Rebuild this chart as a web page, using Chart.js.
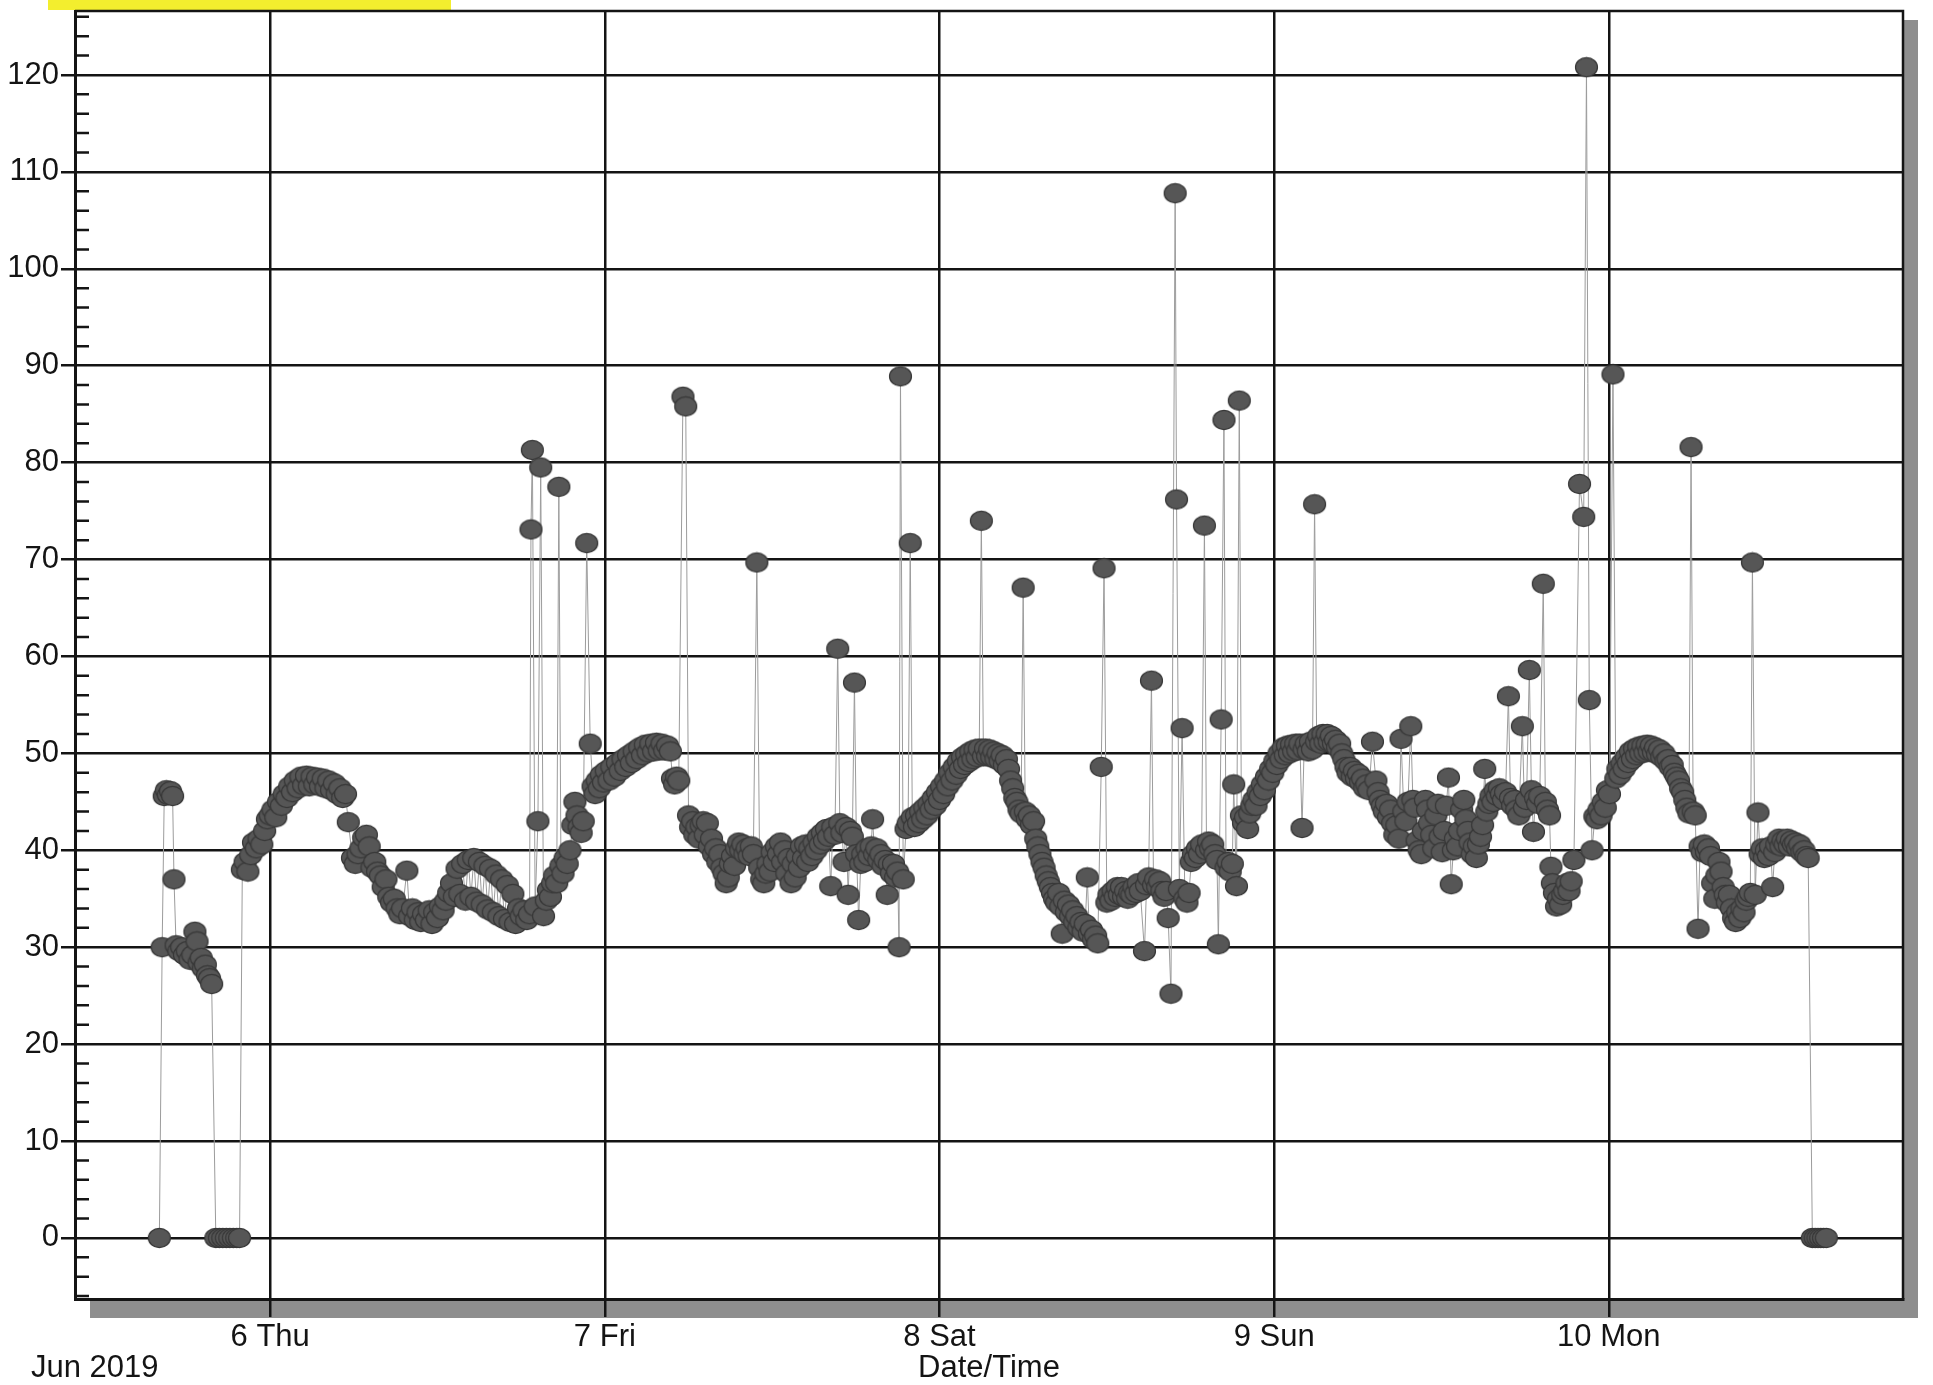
<!DOCTYPE html>
<html>
<head>
<meta charset="utf-8">
<title>Date/Time</title>
<script src="https://cdn.jsdelivr.net/npm/chart.js@4.4.1/dist/chart.umd.min.js"></script>
<style>
  html, body { margin: 0; padding: 0; background: #fff; }
  canvas { display: block; }
</style>
</head>
<body>
<canvas id="chart" width="1933" height="1385"></canvas>
<script>
// hours are counted from Jun 5 2019 00:00, rows of ten readings
const wedHours  = [16.05, 16.25, 16.4, 16.55, 16.7, 16.85, 17.0, 17.1, 17.25, 17.45,
                   17.65, 17.85, 18.05, 18.25, 18.45, 18.6, 18.75, 18.9, 19.05, 19.2,
                   19.35, 19.5, 19.65, 19.8, 20.1, 20.35, 20.6, 20.85, 21.1, 21.35,
                   21.6, 21.8, 22.0, 22.2, 22.4, 22.6, 22.8, 23.0, 23.2, 23.4,
                   23.6, 23.8];
const wedValues = [0, 30, 45.6, 46.2, 45.7, 46.1, 45.6, 37, 30.2, 29.6,
                   30, 29.2, 29.6, 28.7, 29.2, 31.6, 30.6, 28.4, 28.9, 27.8,
                   28.2, 27.1, 26.8, 26.2, 0, 0, 0, 0, 0, 0,
                   0, 0, 38, 38.8, 37.8, 39.5, 40.8, 40.2, 41.2, 40.6,
                   42, 43.2];

const thuHours  = [24.0, 24.2, 24.4, 24.6, 24.8, 25.0, 25.2, 25.4, 25.6, 25.8,
                   26.0, 26.2, 26.4, 26.6, 26.8, 27.0, 27.2, 27.4, 27.6, 27.8,
                   28.0, 28.2, 28.4, 28.6, 28.8, 29.0, 29.2, 29.4, 29.6, 29.9,
                   30.1, 30.3, 30.5, 30.7, 30.9, 31.1, 31.3, 31.5, 31.7, 31.9,
                   32.1, 32.3, 32.5, 32.7, 32.9, 33.1, 33.3, 33.5, 33.8, 34.0,
                   34.2, 34.4, 34.6, 34.8, 35.0, 35.2, 35.4, 35.6, 35.8, 36.0,
                   36.2, 36.4, 36.6, 36.8, 37.0, 37.2, 37.4, 37.6, 37.8, 38.0,
                   38.2, 38.4, 38.6, 38.8, 39.0, 39.2, 39.4, 39.6, 39.8, 40.0,
                   40.2, 40.4, 40.6, 40.8, 41.0, 41.2, 41.4, 41.6, 41.8, 42.0,
                   42.2, 42.4, 42.6, 42.7, 42.8, 43.0, 43.2, 43.4, 43.6, 43.8,
                   43.95, 44.1, 44.25, 44.4, 44.55, 44.7, 44.85, 45.0, 45.15, 45.3,
                   45.5, 45.7, 45.85, 46.0, 46.15, 46.3, 46.45, 46.7, 46.95, 47.15,
                   47.3, 47.45, 47.6, 47.75, 47.9];
const thuValues = [43.6, 44.2, 43.4, 45, 44.6, 45.8, 45.4, 46.6, 46, 47.2,
                   46.4, 47.6, 46.7, 47.7, 46.6, 47.6, 46.8, 47.5, 46.6, 47.4,
                   46.4, 47.2, 46.2, 46.9, 45.8, 46.4, 45.4, 45.8, 42.9, 39.2,
                   38.6, 39.6, 40.2, 41.3, 41.6, 40.4, 38.2, 38.8, 37.8, 37.4,
                   36.2, 37, 35.2, 34.6, 35, 34, 33.4, 34, 37.9, 33.2,
                   34, 32.8, 33.6, 32.6, 33.4, 32.8, 33.8, 32.4, 33.6, 33,
                   34.2, 33.8, 34.8, 35.6, 36.6, 35.2, 38.1, 35.5, 38.6, 34.8,
                   39, 35.2, 39.2, 34.7, 38.8, 34.4, 38.4, 33.9, 38.1, 33.6,
                   37.5, 33.2, 37, 32.9, 36.4, 32.6, 35.5, 32.4, 34, 33.2,
                   33.8, 32.8, 33.4, 73.1, 81.3, 34.2, 43, 79.5, 33.2, 34.8,
                   35.9, 35.2, 36.6, 37.4, 36.6, 77.5, 38.4, 37.6, 39.2, 38.6,
                   40, 42.6, 45, 43.6, 42.4, 41.8, 43, 71.7, 51, 46.6,
                   45.8, 47.2, 46.4, 47.8, 47];

const friHours  = [48.1, 48.3, 48.5, 48.7, 48.9, 49.1, 49.3, 49.5, 49.7, 49.9,
                   50.1, 50.3, 50.5, 50.7, 50.9, 51.1, 51.3, 51.5, 51.7, 51.9,
                   52.1, 52.3, 52.5, 52.7, 52.85, 53.0, 53.15, 53.3, 53.6, 53.8,
                   54.0, 54.15, 54.3, 54.45, 54.6, 54.75, 54.9, 55.05, 55.2, 55.35,
                   55.5, 55.65, 55.8, 55.95, 56.1, 56.25, 56.4, 56.55, 56.7, 56.85,
                   57.0, 57.15, 57.3, 57.45, 57.6, 57.75, 57.9, 58.05, 58.2, 58.35,
                   58.5, 58.65, 58.9, 59.1, 59.25, 59.4, 59.55, 59.7, 59.85, 60.0,
                   60.15, 60.3, 60.45, 60.6, 60.75, 60.9, 61.05, 61.2, 61.35, 61.5,
                   61.65, 61.8, 61.95, 62.1, 62.25, 62.4, 62.55, 62.7, 62.85, 63.0,
                   63.15, 63.3, 63.45, 63.6, 63.75, 63.9, 64.05, 64.2, 64.35, 64.5,
                   64.7, 64.85, 65.0, 65.15, 65.3, 65.45, 65.6, 65.75, 65.9, 66.05,
                   66.2, 66.35, 66.5, 66.65, 66.8, 66.95, 67.1, 67.2, 67.35, 67.5,
                   67.65, 67.8, 67.95, 68.1, 68.25, 68.4, 68.55, 68.7, 68.85, 69.0,
                   69.1, 69.2, 69.4, 69.6, 69.75, 69.9, 70.05, 70.2, 70.35, 70.5,
                   70.65, 70.8, 70.95, 71.1, 71.25, 71.4, 71.55, 71.7, 71.85];
const friValues = [48.2, 47.2, 48.6, 47.6, 49, 48.2, 49.4, 48.6, 49.8, 49,
                   50.2, 49.4, 50.6, 49.8, 50.9, 50.1, 51, 50.2, 51.1, 50.3,
                   51, 50.3, 50.8, 50.2, 47.4, 46.8, 47.6, 47.2, 86.8, 85.8,
                   43.6, 42.4, 43, 41.6, 42.4, 41.2, 42.6, 43, 41.6, 42.8,
                   40.4, 41.2, 39.6, 40.2, 38.8, 39.6, 38.2, 37.6, 36.6, 37.2,
                   38.6, 39.4, 38.4, 40.2, 40.8, 40, 40.6, 39.6, 40.2, 39.4,
                   40.4, 39.6, 69.7, 38.2, 37, 36.6, 37.6, 38.6, 37.8, 39.8,
                   38.8, 40.4, 39.6, 40.8, 38.8, 40, 37.6, 39.2, 36.6, 38.6,
                   37.2, 39.4, 38.2, 40.4, 39.2, 40.6, 38.8, 40.2, 39.4, 40.8,
                   40, 41.4, 40.6, 41.8, 41, 42.2, 41.4, 36.3, 42.4, 41.6,
                   60.8, 42.8, 41.8, 38.8, 42.4, 35.4, 42, 41.4, 57.3, 39.6,
                   32.8, 38.6, 39.6, 38.8, 40.2, 39.4, 40.4, 43.2, 39.6, 40.2,
                   39, 39.6, 38.4, 39, 35.4, 38.6, 37.6, 38.6, 37.2, 37.8,
                   30, 88.9, 37, 42.2, 42.8, 71.7, 43.4, 42.4, 43.6, 42.8,
                   44, 43.2, 44.4, 43.6, 44.8, 44.2, 45.4, 44.6, 46];

const satHours  = [72.0, 72.15, 72.3, 72.45, 72.6, 72.75, 72.9, 73.05, 73.2, 73.35,
                   73.5, 73.65, 73.8, 73.95, 74.1, 74.25, 74.4, 74.55, 74.7, 74.85,
                   75.0, 75.15, 75.3, 75.45, 75.6, 75.75, 75.9, 76.05, 76.2, 76.35,
                   76.5, 76.65, 76.8, 76.95, 77.1, 77.25, 77.4, 77.55, 77.7, 77.85,
                   78.0, 78.15, 78.3, 78.45, 78.6, 78.75, 78.9, 79.05, 79.2, 79.35,
                   79.5, 79.65, 79.8, 79.95, 80.1, 80.25, 80.4, 80.55, 80.7, 80.8,
                   80.95, 81.1, 81.25, 81.4, 81.55, 81.7, 81.85, 82.0, 82.15, 82.3,
                   82.45, 82.6, 82.75, 82.9, 83.05, 83.2, 83.35, 83.6, 83.8, 84.0,
                   84.15, 84.3, 84.45, 84.6, 84.75, 84.9, 85.05, 85.2, 85.35, 85.5,
                   85.65, 85.8, 85.95, 86.1, 86.25, 86.4, 86.7, 86.85, 87.0, 87.2,
                   87.35, 87.5, 87.65, 87.8, 87.95, 88.1, 88.25, 88.4, 88.6, 88.9,
                   89.0, 89.2, 89.4, 89.6, 89.75, 89.9, 90.05, 90.2, 90.35, 90.5,
                   90.65, 90.8, 91.0, 91.15, 91.3, 91.45, 91.6, 91.75, 91.9, 92.0,
                   92.2, 92.4, 92.55, 92.7, 92.85, 93.0, 93.1, 93.3, 93.5, 93.65,
                   93.8, 93.95, 94.1, 94.25, 94.4, 94.55, 94.7, 94.85, 95.0, 95.15,
                   95.3, 95.45, 95.6, 95.75];
const satValues = [45.2, 46.6, 45.8, 47.2, 46.6, 48, 47.2, 48.6, 47.8, 49.2,
                   48.4, 49.6, 48.8, 49.9, 49.1, 50.2, 49.4, 50.4, 49.6, 50.5,
                   74, 49.7, 50.5, 49.7, 50.4, 49.6, 50.2, 49.4, 50, 49.2,
                   49.8, 48.8, 49.4, 48.4, 47.2, 46.4, 45.4, 45, 44.2, 43.8,
                   67.1, 44, 43.2, 43.6, 42.6, 43, 41.2, 40.4, 39.6, 38.8,
                   38.2, 37.4, 36.8, 36.2, 35.6, 35, 34.6, 35.6, 34.2, 31.4,
                   34.8, 33.6, 34.4, 33.2, 33.8, 32.6, 33.2, 32, 32.6, 31.6,
                   32.4, 37.2, 31.4, 31.8, 30.8, 31.2, 30.4, 48.6, 69.1, 34.6,
                   35.4, 34.8, 35.8, 35.2, 36.2, 35.4, 36.2, 35.2, 35.8, 35,
                   35.6, 35.4, 36.2, 35.6, 36.6, 35.8, 29.6, 36.4, 37.2, 57.5,
                   36.4, 37, 36.2, 36.8, 35.8, 35.2, 35.8, 33, 25.2, 107.8,
                   76.2, 36, 52.6, 35, 34.6, 35.6, 38.8, 39.6, 39.2, 40.2,
                   39.6, 40.6, 73.5, 40, 40.9, 40.2, 40.6, 39.6, 39, 30.3,
                   53.5, 84.4, 38.2, 38.8, 37.8, 38.6, 46.8, 36.3, 86.4, 43.6,
                   42.8, 43.4, 42.2, 43.8, 44.6, 45.2, 44.6, 46, 45.6, 46.8,
                   46.2, 47.6, 47.2, 48.4];

const sunHours  = [95.9, 96.05, 96.2, 96.35, 96.5, 96.65, 96.8, 96.95, 97.1, 97.25,
                   97.4, 97.55, 97.7, 97.85, 98.0, 98.15, 98.3, 98.45, 98.6, 98.75,
                   98.9, 99.05, 99.2, 99.35, 99.5, 99.65, 99.8, 99.95, 100.1, 100.25,
                   100.4, 100.55, 100.7, 100.85, 101.0, 101.15, 101.3, 101.45, 101.6, 101.75,
                   101.9, 102.05, 102.2, 102.35, 102.5, 102.65, 102.8, 103.05, 103.3, 103.45,
                   103.6, 103.75, 103.9, 104.05, 104.2, 104.35, 104.5, 104.65, 104.8, 104.95,
                   105.1, 105.3, 105.45, 105.6, 105.8, 105.95, 106.1, 106.25, 106.4, 106.55,
                   106.7, 106.85, 107.0, 107.15, 107.3, 107.45, 107.6, 107.75, 107.9, 108.05,
                   108.2, 108.35, 108.5, 108.7, 108.85, 109.0, 109.15, 109.3, 109.45, 109.6,
                   109.75, 109.9, 110.05, 110.2, 110.35, 110.5, 110.65, 110.8, 110.95, 111.1,
                   111.25, 111.4, 111.55, 111.7, 111.85, 112.0, 112.15, 112.3, 112.45, 112.6,
                   112.8, 112.95, 113.1, 113.25, 113.4, 113.55, 113.8, 113.95, 114.1, 114.3,
                   114.45, 114.6, 114.75, 114.9, 115.05, 115.3, 115.45, 115.6, 115.75, 115.85,
                   115.95, 116.1, 116.25, 116.4, 116.55, 116.7, 116.85, 117.0, 117.15, 117.3,
                   117.5, 117.9, 118.2, 118.4, 118.6, 118.8, 119.0, 119.15, 119.3, 119.45,
                   119.6, 119.75, 119.9];
const sunValues = [48, 49.2, 48.8, 50, 49.4, 50.6, 49.8, 50.8, 50, 50.9,
                   50.2, 51, 50.3, 51, 42.3, 50.4, 51, 50.2, 51.2, 50.4,
                   75.7, 51.2, 51.8, 51, 52, 51.2, 52, 51.2, 51.8, 51,
                   51.4, 50.6, 51, 50, 49.4, 48.6, 48, 48.6, 47.6, 48.2,
                   47.4, 47.9, 47, 47.4, 46.4, 46.8, 46.2, 51.2, 47.2, 46,
                   45.2, 44.6, 44, 44.8, 43.4, 44.2, 42.8, 41.6, 42.6, 41.2,
                   51.5, 44, 43, 45, 52.8, 45.2, 44.4, 41, 40, 39.6,
                   42, 45.2, 44.2, 42.8, 41.6, 40.2, 43.6, 44.8, 41.4, 39.8,
                   42, 44.6, 47.5, 36.5, 40, 41.2, 40.4, 42, 44.2, 45.2,
                   43.2, 42, 40.8, 39.6, 40.4, 39.2, 40.6, 41.4, 42.6, 48.4,
                   44, 44.8, 45.6, 45, 46.2, 45.6, 46.4, 45.8, 45.2, 46,
                   55.9, 45.4, 44.6, 45.2, 44.2, 43.6, 52.8, 44.4, 45.2, 58.6,
                   46.2, 41.9, 45.4, 44.8, 45.6, 67.5, 45, 44.2, 43.6, 38.3,
                   36.6, 35.6, 34.2, 35, 34.4, 35.4, 35.8, 36.6, 35.8, 36.8,
                   39, 77.8, 74.4, 120.8, 55.5, 40, 43.5, 43.2, 44.2, 43.6,
                   45, 44.4, 46.2];

const monHours  = [120.05, 120.3, 120.5, 120.65, 120.8, 120.95, 121.1, 121.25, 121.4, 121.55,
                   121.7, 121.85, 122.0, 122.15, 122.3, 122.45, 122.6, 122.75, 122.9, 123.05,
                   123.2, 123.35, 123.5, 123.65, 123.8, 123.95, 124.1, 124.25, 124.4, 124.55,
                   124.7, 124.85, 125.0, 125.15, 125.3, 125.45, 125.6, 125.75, 125.9, 126.05,
                   126.2, 126.4, 126.55, 126.7, 126.85, 127.0, 127.15, 127.3, 127.45, 127.6,
                   127.75, 127.9, 128.05, 128.2, 128.35, 128.5, 128.65, 128.8, 128.95, 129.1,
                   129.25, 129.4, 129.55, 129.7, 129.85, 130.0, 130.15, 130.3, 130.5, 130.7,
                   130.85, 131.0, 131.15, 131.3, 131.45, 131.6, 131.75, 131.9, 132.05, 132.2,
                   132.35, 132.5, 132.65, 132.8, 132.95, 133.1, 133.25, 133.4, 133.55, 133.7,
                   133.85, 134.0, 134.15, 134.3, 134.6, 134.8, 135.0, 135.2, 135.4, 135.6];
const monValues = [45.8, 89.1, 47.4, 48.4, 47.8, 49, 48.4, 49.6, 49, 50.2,
                   49.4, 50.5, 49.8, 50.7, 50, 50.8, 50.1, 50.9, 50.2, 50.8,
                   50.1, 50.6, 49.9, 50.4, 49.6, 50, 49.2, 49.4, 48.6, 48.8,
                   48, 47.6, 47.2, 46.4, 46, 45.2, 44.4, 43.8, 81.6, 44,
                   43.6, 31.9, 40.4, 39.8, 40.6, 39.8, 40.2, 39.4, 36.6, 35,
                   37.4, 38.8, 37.8, 36.2, 35.4, 34.6, 35.4, 34, 33, 32.6,
                   33.6, 33, 34, 33.6, 34.8, 35.2, 35.6, 69.7, 35.4, 43.9,
                   39.6, 40.2, 39.2, 40, 39.4, 40.4, 36.2, 39.8, 40.6, 41.2,
                   40.4, 41, 40.6, 41.2, 40.4, 41, 40.6, 40.8, 40.2, 40.6,
                   39.8, 40, 39.4, 39.2, 0, 0, 0, 0, 0, 0];

const dayTicks  = [24, 48, 72, 96, 120];
const dayLabels = ['6 Thu', '7 Fri', '8 Sat', '9 Sun', '10 Mon'];
const yTicks    = [0, 10, 20, 30, 40, 50, 60, 70, 80, 90, 100, 110, 120];

const hours  = [].concat(wedHours, thuHours, friHours, satHours, sunHours, monHours);
const values = [].concat(wedValues, thuValues, friValues, satValues, sunValues, monValues);
const points = hours.map((h, i) => ({ x: h, y: values[i] }));

const ink = '#141414';
const fontFamily = '"Liberation Sans", Arial, sans-serif';

// slightly flattened dot, like the printed markers
function makeDot() {
    const c = document.createElement('canvas');
    c.width = 25;
    c.height = 22;
    const g = c.getContext('2d');
    g.beginPath();
    g.ellipse(12.5, 11, 11, 9.6, 0, 0, Math.PI * 2);
    g.fillStyle = '#565656';
    g.fill();
    g.lineWidth = 1.2;
    g.strokeStyle = '#383838';
    g.stroke();
    return c;
}

const decor = {
    id: 'decor',
    beforeDraw(chart) {
        const { ctx, chartArea: a } = chart;
        ctx.save();
        ctx.fillStyle = '#fff';
        ctx.fillRect(0, 0, chart.width, chart.height);
        // drop shadow of the plot frame
        ctx.fillStyle = '#8e8e8e';
        ctx.fillRect(a.left + 15, a.top + 9, a.width, a.height + 10);
        ctx.fillStyle = '#fff';
        ctx.fillRect(a.left, a.top, a.width, a.height);
        // marker pen highlight at the top edge
        ctx.fillStyle = '#f3ee2e';
        ctx.fillRect(48, 0, 403, 10);
        ctx.restore();
    },
    beforeDatasetsDraw(chart) {
        const { ctx, chartArea: a } = chart;
        const y = chart.scales.y;
        ctx.save();
        ctx.strokeStyle = ink;
        ctx.lineWidth = 2.5;
        ctx.beginPath();
        for (let v = -6; v <= 126; v += 2) {
            if (v % 10 === 0) continue;
            const py = y.getPixelForValue(v);
            ctx.moveTo(a.left, py);
            ctx.lineTo(a.left + 14, py);
        }
        // top and right frame
        ctx.moveTo(a.left, a.top);
        ctx.lineTo(a.right, a.top);
        ctx.lineTo(a.right, a.bottom);
        ctx.stroke();
        ctx.restore();
    },
    afterDraw(chart) {
        const ctx = chart.ctx;
        ctx.save();
        ctx.fillStyle = ink;
        ctx.font = '31px ' + fontFamily;
        ctx.textAlign = 'left';
        ctx.textBaseline = 'middle';
        ctx.fillText('Jun 2019', 31, 1368);
        ctx.restore();
    }
};

const ctx = document.getElementById('chart').getContext('2d');
const myChart = new Chart(ctx, {
    type: 'scatter',
    data: {
        datasets: [{
            label: 'Value',
            data: points,
            showLine: true,
            borderColor: '#9c9c9c',
            borderWidth: 1,
            pointStyle: makeDot(),
            pointRadius: 10,
            pointHoverRadius: 10
        }]
    },
    options: {
        responsive: false,
        animation: false,
        events: [],
        layout: { padding: { top: 7, right: 30, left: 0, bottom: 0 } },
        plugins: {
            legend: { display: false },
            tooltip: { enabled: false }
        },
        scales: {
            x: {
                type: 'linear',
                min: 10.0,
                max: 141.1,
                afterFit: scale => {
                    scale.height = 86;
                    scale.paddingLeft = 0;
                    scale.paddingRight = 0;
                },
                afterBuildTicks: scale => { scale.ticks = dayTicks.map(v => ({ value: v })); },
                grid: { color: ink, lineWidth: 2.5, tickLength: 18, tickColor: ink },
                border: { color: ink, width: 3 },
                ticks: {
                    color: ink,
                    padding: 2,
                    maxRotation: 0,
                    font: { family: fontFamily, size: 31 },
                    callback: value => dayLabels[dayTicks.indexOf(value)]
                },
                title: {
                    display: true,
                    text: 'Date/Time',
                    color: ink,
                    padding: { top: 0, bottom: -2 },
                    font: { family: fontFamily, size: 31 }
                }
            },
            y: {
                type: 'linear',
                min: -6.3,
                max: 126.6,
                afterFit: scale => {
                    scale.width = 75;
                    scale.paddingTop = 0;
                    scale.paddingBottom = 0;
                },
                afterBuildTicks: scale => { scale.ticks = yTicks.map(v => ({ value: v })); },
                grid: { color: ink, lineWidth: 2.5, tickLength: 14, tickColor: ink },
                border: { color: ink, width: 3 },
                ticks: {
                    color: ink,
                    padding: 2,
                    font: { family: fontFamily, size: 31 }
                }
            }
        }
    },
    plugins: [decor]
});
</script>
</body>
</html>
